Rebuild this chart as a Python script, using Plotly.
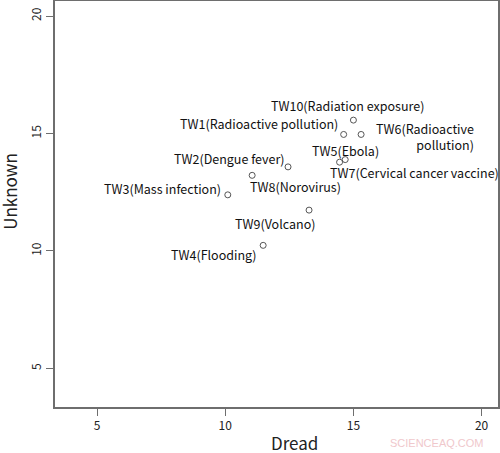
import plotly.graph_objects as go

labels = ["TW1(Radioactive pollution)", "TW2(Dengue fever)", "TW3(Mass infection)",
          "TW4(Flooding)", "TW5(Ebola)", "TW6(Radioactive<br>pollution)",
          "TW7(Cervical cancer vaccine)", "TW8(Norovirus)", "TW9(Volcano)",
          "TW10(Radiation exposure)"]
dread = [14.62, 12.45, 10.10, 11.48, 14.68, 15.30, 14.46, 11.05, 13.27, 15.00]
unknown = [14.96, 13.58, 12.39, 10.24, 13.89, 14.96, 13.78, 13.22, 11.74, 15.57]

x_ticks = [5, 10, 15, 20]
y_ticks = [5, 10, 15, 20]

# label placement (pixel offsets from point, anchors)
label_style = [
    dict(ax=-4, ay=-11, xanchor="right", yanchor="middle", align="left"),
    dict(ax=-1, ay=-8, xanchor="right", yanchor="middle", align="left"),
    dict(ax=-5, ay=-6, xanchor="right", yanchor="middle", align="left"),
    dict(ax=-4, ay=9, xanchor="right", yanchor="middle", align="left"),
    dict(ax=0, ay=-9, xanchor="center", yanchor="middle", align="left"),
    dict(ax=13, ay=2, xanchor="left", yanchor="middle", align="right"),
    dict(ax=-12, ay=10, xanchor="left", yanchor="middle", align="left"),
    dict(ax=-4, ay=11, xanchor="left", yanchor="middle", align="left"),
    dict(ax=-34, ay=13, xanchor="center", yanchor="middle", align="left"),
    dict(ax=-6, ay=-15, xanchor="center", yanchor="middle", align="left"),
]

FONT = "Noto Sans CJK JP"
axis_col = "#6e6e6e"

fig = go.Figure()
fig.add_trace(go.Scatter(
    x=dread, y=unknown, mode="markers",
    marker=dict(symbol="circle-open", size=6, color="#555555", line=dict(width=1)),
    hoverinfo="skip", showlegend=False,
))

for lab, xv, yv, st in zip(labels, dread, unknown, label_style):
    fig.add_annotation(
        x=xv, y=yv, xref="x", yref="y", text=lab, showarrow=True,
        arrowcolor="rgba(0,0,0,0)", arrowwidth=0.1, standoff=0,
        ax=st["ax"], ay=st["ay"], xanchor=st["xanchor"], yanchor=st["yanchor"],
        align=st["align"], font=dict(family=FONT, size=12.5, color="#111111"),
    )

# axis titles
fig.add_annotation(
    x=0.54, y=0, xref="paper", yref="paper", xanchor="center", yanchor="middle",
    yshift=-35, text="Dread", showarrow=False,
    font=dict(family=FONT, size=17, color="#222222"),
)
fig.add_annotation(
    x=0, y=0.53, xref="paper", yref="paper", xanchor="center", yanchor="middle",
    xshift=-45, text="Unknown", showarrow=False, textangle=-90,
    font=dict(family=FONT, size=17, color="#222222"),
)

fig.add_annotation(
    x=1, y=0, xref="paper", yref="paper", xanchor="right", yanchor="middle",
    xshift=-12, yshift=-36, text="SCIENCEAQ.COM", showarrow=False,
    font=dict(family="Liberation Sans", size=11, color="#f0c8cc"),
)

fig.update_layout(
    width=500, height=453,
    margin=dict(l=55, r=2, t=1, b=46, autoexpand=False),
    paper_bgcolor="white", plot_bgcolor="white",
    xaxis=dict(
        range=[3.36, 20.64], tickvals=x_ticks, ticks="outside", ticklen=7,
        tickcolor=axis_col, showgrid=False, zeroline=False, showline=True,
        linecolor=axis_col, linewidth=1.5, mirror=True, automargin=False,
        tickfont=dict(family=FONT, size=12, color="#222222"),
    ),
    yaxis=dict(
        range=[3.36, 20.64], tickvals=y_ticks, ticks="outside", ticklen=7,
        tickcolor=axis_col, showgrid=False, zeroline=False, showline=True,
        linecolor=axis_col, linewidth=1.5, mirror=True, tickangle=-90,
        automargin=False,
        tickfont=dict(family=FONT, size=12, color="#222222"),
    ),
)

fig.write_html("out.html", config={"displayModeBar": False},
               post_script="document.body.style.margin='0';")
